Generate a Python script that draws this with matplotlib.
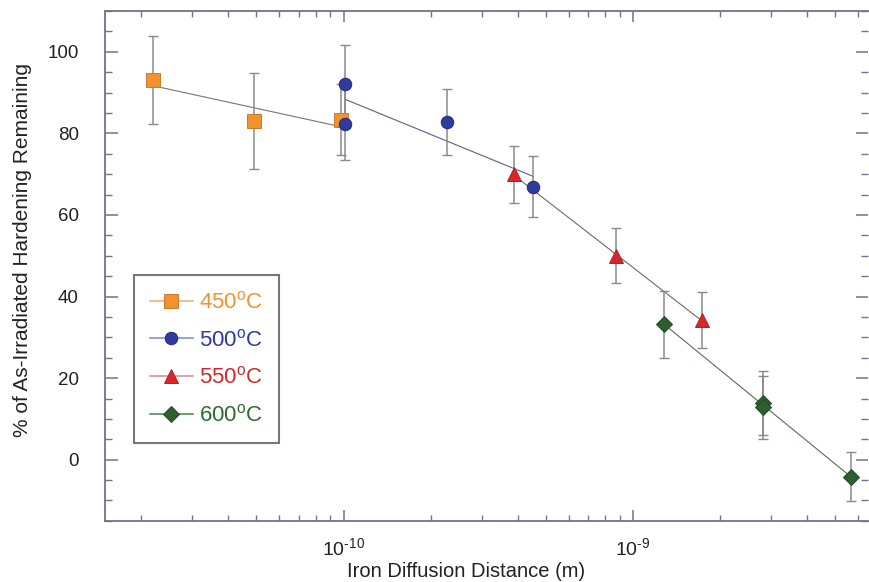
import numpy as np
import matplotlib
matplotlib.use('Agg')
import matplotlib.pyplot as plt
from matplotlib.lines import Line2D
from matplotlib.ticker import LogLocator, MultipleLocator, FuncFormatter, NullFormatter, FixedLocator

plt.rcParams['font.family'] = ['Liberation Sans', 'DejaVu Sans']
plt.rcParams['mathtext.fontset'] = 'custom'
plt.rcParams['mathtext.rm'] = 'Liberation Sans'
plt.rcParams['mathtext.default'] = 'regular'
plt.rcParams['axes.unicode_minus'] = False

# data: diffusion distance (m), % hardening remaining, error
x450 = [2.2e-11, 4.9e-11, 9.8e-11]
y450 = [93.2, 83.0, 83.4]
e450 = [10.8, 11.8, 8.8]

x500 = [1.01e-10, 1.01e-10, 2.27e-10, 4.52e-10]
y500 = [92.2, 82.4, 82.9, 66.9]
e500 = [9.4, 8.9, 8.1, 7.5]

x550 = [3.87e-10, 8.71e-10, 1.73e-9]
y550 = [70.0, 50.0, 34.3]
e550 = [7.0, 6.7, 6.8]

x600 = [1.28e-9, 2.82e-9, 2.82e-9, 5.66e-9]
y600 = [33.2, 13.9, 12.9, -4.2]
e600 = [8.2, 7.9, 7.7, 6.0]

xmajor = [1e-10, 1e-9]
labels = ['450$^{o}$C', '500$^{o}$C', '550$^{o}$C', '600$^{o}$C']
series = [(x450, y450, e450), (x500, y500, e500), (x550, y550, e550), (x600, y600, e600)]
markers = ['s', 'o', '^', 'D']
face = ['#f2922e', '#2f3a9e', '#d8262a', '#2f5f2f']
edge = ['#c87a30', '#252c78', '#b02024', '#244a24']
fitcol = ['#857060', '#5c6080', '#7a6464', '#5c6a5c']
legline = ['#f6b070', '#8c8cd8', '#e09090', '#5a8a5a']
txtcol = ['#f0952e', '#2f3a9e', '#d02a2a', '#2f6a30']
msize = [9.5, 9, 10, 8.5]


def pow_label(v, pos):
    e = int(round(np.log10(v)))
    return '$10^{%s}$' % (str(e).replace('-', '\u2010'))


fig = plt.figure(figsize=(8.69, 5.82), dpi=100)
ax = fig.add_axes([0.121, 0.105, 0.878, 0.876])

for i, (xs, ys, es) in enumerate(series):
    xs = np.array(xs)
    ys = np.array(ys)
    lx = np.log10(xs)
    k, b = np.polyfit(lx, ys, 1)
    xx = np.array([lx.min(), lx.max()])
    ax.plot(10 ** xx, k * xx + b, color=fitcol[i], lw=0.8, zorder=2)
    ax.errorbar(xs, ys, yerr=es, fmt='none', ecolor='#8a8a8a', elinewidth=1.1,
                capsize=3.5, capthick=1.0, zorder=3)
    ax.plot(xs, ys, linestyle='none', marker=markers[i], ms=msize[i],
            mfc=face[i], mec=edge[i], mew=0.7, zorder=4)

ax.set_xscale('log')
ax.set_xlim(1.5e-11, 6.5e-9)
ax.set_ylim(-15, 110)
ax.yaxis.set_major_locator(MultipleLocator(20))
ax.yaxis.set_minor_locator(MultipleLocator(5))
ax.xaxis.set_major_locator(FixedLocator(xmajor))
ax.xaxis.set_minor_locator(LogLocator(base=10, subs=np.arange(2, 10)))
ax.xaxis.set_major_formatter(FuncFormatter(pow_label))
ax.xaxis.set_minor_formatter(NullFormatter())
ax.set_yticks([0, 20, 40, 60, 80, 100])

sc = '#72728c'
for s in ax.spines.values():
    s.set_color(sc)
    s.set_linewidth(1.3)
ax.spines['right'].set_visible(False)
ax.tick_params(which='both', direction='in', top=True, right=True, colors=sc,
               labelcolor='#222222', labelsize=14)
ax.tick_params(axis='y', which='major', length=9, width=1.1, pad=19, labelsize=13.5)
ax.tick_params(axis='y', which='minor', length=5, width=1.0)
ax.tick_params(axis='x', which='major', length=8, width=1.1, pad=12)
ax.tick_params(axis='x', which='minor', length=4, width=1.0)

ax.set_xlabel('Iron Diffusion Distance (m)', fontsize=14.5, color='#222222')
ax.set_ylabel('% of As-Irradiated Hardening Remaining', fontsize=15, color='#222222')
ax.xaxis.set_label_coords(0.473, -0.1, transform=ax.transAxes)
ax.yaxis.set_label_coords(-0.108, 0.531, transform=ax.transAxes)
ax.xaxis.label.set_va('center')
ax.yaxis.label.set_va('center')

handles = [Line2D([], [], color=legline[i], lw=1.2, marker=markers[i], ms=msize[i],
                  mfc=face[i], mec=edge[i], mew=0.7) for i in range(4)]
leg = ax.legend(handles, labels, loc='lower left', bbox_to_anchor=(0.038, 0.153),
                borderaxespad=0, fontsize=16, frameon=True, fancybox=False,
                labelspacing=0.71, handlelength=1.9, handletextpad=0.27,
                borderpad=0.73)
leg.get_frame().set_edgecolor('#555555')
leg.get_frame().set_linewidth(1.5)
for t, c in zip(leg.get_texts(), txtcol):
    t.set_color(c)

fig.savefig('out.png', dpi=100)
